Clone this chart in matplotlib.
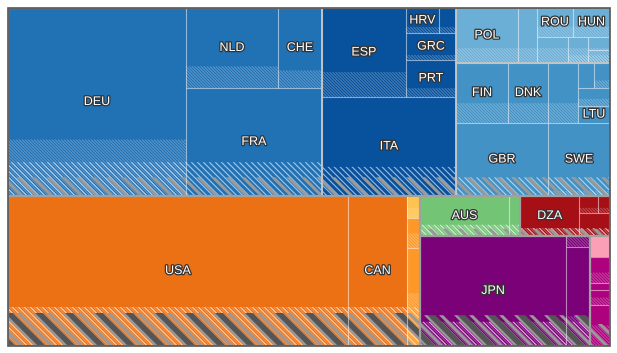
import numpy as np
import matplotlib
matplotlib.use("Agg")
import matplotlib.pyplot as plt
from matplotlib.patches import Rectangle
from matplotlib.collections import PolyCollection
import matplotlib.patheffects as pe

plt.rcParams['font.family'] = ['Liberation Sans', 'DejaVu Sans']

# ---------------- data ----------------
west_names = ['DEU', 'NLD', 'CHE', 'FRA']
west_vals = [334.6, 73.6, 35.2, 146.9]
west_share = [0.30, 0.27, 0.22, 0.0]

south_names = ['ESP', 'HRV', '', 'GRC', 'PRT', 'ITA']
south_vals = [74.8, 8.3, 4.3, 13.5, 18.5, 132.7]
south_share = [0.28, 0.24, 0.24, 0.19, 0.24, 0.0]

east_names = ['POL', '', 'ROU', 'HUN', '', '', '', '']
east_vals = [34.1, 10.5, 10.4, 10.7, 8.1, 5.2, 2.9, 2.9]
east_share = [0.0, 0.0, 0.35, 0.35, 0.0, 0.3, 0.0, 0.6]

north_names = ['FIN', 'DNK', '', '', '', '', 'LTU', 'GBR', 'SWE']
north_vals = [31.2, 24.0, 18.0, 4.0, 4.0, 5.8, 5.4, 67.2, 45.3]
north_share = [0.33, 0.33, 0.33, 0.0, 0.3, 0.4, 0.0, 0.0, 0.07]

amer_names = ['USA', 'CAN', '', '', '']
amer_vals = [510.0, 88.5, 2.9, 3.9, 12.7]
amer_share = [0.26, 0.26, 0.45, 0.5, 0.54]

ocea_names = ['AUS', '']
ocea_vals = [35.6, 4.4]
ocea_share = [0.28, 0.28]

afr_names = ['DZA', '', '', '']
afr_vals = [23.6, 3.2, 2.0, 7.1]
afr_share = [0.2, 0.3, 0.3, 0.3]

asia_names = ['JPN', '', '', '', '', '', '', '']
asia_vals = [160.6, 2.6, 23.8, 4.2, 5.2, 1.4, 3.0, 8.2]
asia_share = [0.22, 1.0, 0.3, 0.0, 0.4, 0.0, 0.5, 0.5]

# ---------------- styles ----------------
C_WEST, C_SOUTH, C_NORTH, C_EAST = '#2171b5', '#08519c', '#4292c6', '#6baed6'
amer_colors = ['#ec7014', '#ec7014', '#fec44f', '#fe9929', '#fe9929']
asia_colors = ['#7a0177', '#7a0177', '#7a0177', '#fa9fb5', '#ae017e', '#ae017e', '#ae017e', '#ae017e']

W, H = 602.0, 338.0

groups = {
    'west': (west_names, west_vals, west_share, [C_WEST] * 4),
    'south': (south_names, south_vals, south_share, [C_SOUTH] * 6),
    'east': (east_names, east_vals, east_share, [C_EAST] * 8),
    'north': (north_names, north_vals, north_share, [C_NORTH] * 9),
    'amer': (amer_names, amer_vals, amer_share, amer_colors),
    'ocea': (ocea_names, ocea_vals, ocea_share, ['#74c476'] * 2),
    'afr': (afr_names, afr_vals, afr_share, ['#a50f15'] * 4),
    'asia': (asia_names, asia_vals, asia_share, asia_colors),
}

def L(g, i):
    return ('leaf', g, i)

def G(t, bands, name):
    return ('group', t, bands, name)

tree_west = ('h', L('west', 0), ('v', ('h', L('west', 1), L('west', 2)), L('west', 3)))
tree_south = ('v', ('h', L('south', 0), ('v', ('h', L('south', 1), L('south', 2)), L('south', 3), L('south', 4))), L('south', 5))
tree_east = ('h', L('east', 0), L('east', 1), ('v', ('h', L('east', 2), L('east', 3)),
                                                ('h', L('east', 4), L('east', 5), ('v', L('east', 6), L('east', 7)))))
tree_north = ('v', ('h', L('north', 0), L('north', 1), L('north', 2),
                    ('v', ('h', L('north', 3), L('north', 4)), L('north', 5), L('north', 6))),
              ('h', L('north', 7), L('north', 8)))
tree_amer = ('h', L('amer', 0), L('amer', 1), ('v', L('amer', 2), L('amer', 3), L('amer', 4)))
tree_ocea = ('h', L('ocea', 0), L('ocea', 1))
tree_afr = ('h', L('afr', 0), ('v', ('h', L('afr', 1), L('afr', 2)), L('afr', 3)))
tree_purple = ('h', L('asia', 0), ('v', L('asia', 1), L('asia', 2)))
tree_pink = ('v', L('asia', 3), L('asia', 4), L('asia', 5), L('asia', 6), L('asia', 7))

europe = G(('h', G(tree_west, [(0.18, 'white')], 'sub'), G(tree_south, [(0.155, 'white')], 'sub'),
            ('v', G(tree_east, [(0.27, 'fine')], 'sub'), G(tree_north, [(0.14, 'white')], 'sub'))),
           [(0.10, 'gray')], 'cont')
rest = ('h', G(tree_amer, [(0.26, 'white'), (0.22, 'gray'), (0.22, 'darkgray')], 'cont'),
        ('v', ('h', G(tree_ocea, [(0.28, 'white'), (0.18, 'gray')], 'cont'),
                    G(tree_afr, [(0.2, 'white'), (0.18, 'gray')], 'cont')),
              ('h', G(tree_purple, [(0.22, 'white'), (0.28, 'gray'), (0.28, 'darkgray')], 'cont'),
                    G(tree_pink, [(0.2, 'gray')], 'cont'))))
root = ('v', europe, rest)

def total(node):
    kind = node[0]
    if kind == 'leaf':
        return groups[node[1]][1][node[2]]
    if kind == 'group':
        return total(node[1])
    return sum(total(c) for c in node[1:])

leaves, bands, gboxes = [], [], []

def layout(node, x, y, w, h, depth=0):
    kind = node[0]
    if kind == 'leaf':
        leaves.append((node, x, y, w, h))
        return
    if kind == 'group':
        layout(node[1], x, y, w, h, depth + 1)
        for k, (s, style) in enumerate(node[2]):
            bands.append((style, x, y, w, h, s, depth, k))
        gboxes.append((x, y, w, h, node[3]))
        return
    kids = node[1:]
    tot = sum(total(c) for c in kids)
    pos = 0.0
    for c in kids:
        f = total(c) / tot
        if kind == 'h':
            layout(c, x + pos * w, y, f * w, h, depth)
        else:
            layout(c, x, y + pos * h, w, f * h, depth)
        pos += f

layout(root, 0, 0, W, H)

# ---------------- drawing ----------------
fig = plt.figure(figsize=(6.17, 3.53), dpi=100)
ax = fig.add_axes([8 / 617, 7 / 353, 602 / 617, 338 / 353])
ax.set_xlim(0, W)
ax.set_ylim(H, 0)
ax.axis('off')

def clip_half(poly, sign, c):
    out = []
    n = len(poly)
    for k in range(n):
        p, q = poly[k], poly[(k + 1) % n]
        fp = sign * ((p[1] - p[0]) - c)
        fq = sign * ((q[1] - q[0]) - c)
        if fp >= 0:
            out.append(p)
        if (fp >= 0) != (fq >= 0):
            t = fp / (fp - fq)
            out.append((p[0] + t * (q[0] - p[0]), p[1] + t * (q[1] - p[1])))
    return out

def stripes(x0, y0, w, h, pitch, thick, color, alpha=1.0, z=3, offset=0.0):
    if h <= 0.3 or w <= 0.3:
        return
    rect = [(x0, y0), (x0 + w, y0), (x0 + w, y0 + h), (x0, y0 + h)]
    cmin = np.floor((y0 - (x0 + w)) / pitch) * pitch + offset
    polys = []
    for c in np.arange(cmin - pitch, (y0 + h) - x0 + pitch, pitch):
        p = clip_half(rect, 1, c)
        if len(p) >= 3:
            p = clip_half(p, -1, c + thick)
        if len(p) >= 3:
            polys.append(p)
    if polys:
        pc = PolyCollection(polys, facecolors=color, edgecolors='none', alpha=alpha, zorder=z)
        ax.add_collection(pc)

STY = {
    'fine': dict(pitch=3.0, thick=1.1, color='white', alpha=0.35),
    'white': dict(pitch=6.0, thick=1.6, color='white', alpha=0.6),
    'gray': dict(pitch=15.0, thick=4.2, color='#999999', alpha=1.0, offset=7.0),
    'darkgray': dict(pitch=30.0, thick=8.0, color='#555555', alpha=1.0),
}

for node, x, y, w, h in leaves:
    names, vals, share, cols = groups[node[1]]
    i = node[2]
    ax.add_patch(Rectangle((x, y), w, h, facecolor=cols[i], edgecolor='none', zorder=1))
    s = share[i]
    if s > 0:
        stripes(x, y + h * (1 - s), w, h * s, z=2, **STY['fine'])

for style, x, y, w, h, s, depth, k in bands:
    stripes(x, y + h * (1 - s), w, h * s, z=4 - depth * 0.1 + k * 0.01, **STY[style])

for node, x, y, w, h in leaves:
    ax.add_patch(Rectangle((x, y), w, h, facecolor='none', edgecolor='white', alpha=0.3, lw=0.8, zorder=5))
    names = groups[node[1]][0]
    lab = names[node[2]]
    if lab:
        t = ax.text(x + w / 2, y + h / 2, lab, ha='center', va='center', fontsize=9,
                    color='white', zorder=8)
        t.set_path_effects([pe.Stroke(linewidth=1.8, foreground='#333333'), pe.Normal()])

for x, y, w, h, name in gboxes:
    if name == 'cont':
        ax.add_patch(Rectangle((x, y), w, h, facecolor='none', edgecolor='#a0a0a0', lw=1.5, zorder=6.1))
    else:
        ax.add_patch(Rectangle((x, y), w, h, facecolor='none', edgecolor='#c4c4c4', lw=1.1, zorder=6))

ax.add_patch(Rectangle((0, 0), W, H, facecolor='none', edgecolor='#555555', lw=1.2, zorder=9, clip_on=False))

fig.savefig('out.png', dpi=100)
